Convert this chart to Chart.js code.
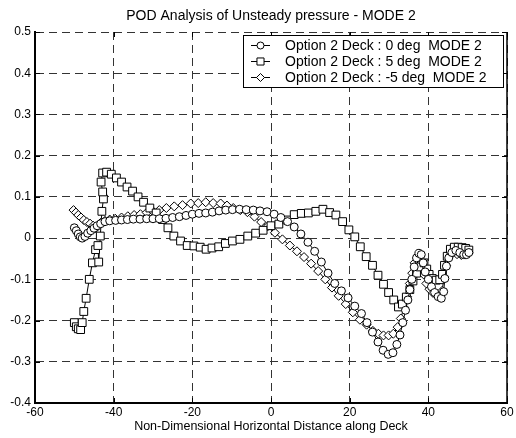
<!DOCTYPE html>
<html>
<head>
<meta charset="utf-8">
<script src="https://cdn.jsdelivr.net/npm/chart.js@4.4.1/dist/chart.umd.min.js"></script>
<style>
  html, body { margin: 0; padding: 0; background: #fff; }
</style>
</head>
<body>
<canvas id="podChart" width="516" height="438"></canvas>
<script>
// series 1 : 0 deg (circles)
const xDeg0 = [-50.0,-49.5,-49.0,-48.5,-48.0,-47.3,-46.6,-45.8,-45.0,-44.2,-43.3,-42.2,-41.0,-39.5,-38.0,-36.5,-35.0,-33.3,-31.6,-30.0,-28.4,-26.7,-25.0,-23.3,-21.6,-20.0,-18.3,-16.6,-14.9,-13.2,-11.5,-9.8,-8.0,-6.3,-4.5,-2.8,-1.0,0.8,2.5,4.2,5.9,7.6,9.4,11.1,12.8,14.5,16.2,17.9,19.6,21.3,23.0,24.4,25.8,27.2,28.5,29.8,31.0,32.0,32.8,33.5,34.2,34.8,35.3,35.8,36.4,37.0,37.6,38.2,38.7,39.2,40.0,40.8,41.6,42.5,43.3,43.9,44.2,44.6,45.2,46.0,47.0,48.0,49.0,49.7,50.3];
const yDeg0 = [0.025,0.018,0.010,0.003,0.000,0.004,0.012,0.018,0.024,0.030,0.035,0.040,0.042,0.043,0.044,0.045,0.046,0.046,0.047,0.047,0.047,0.048,0.050,0.052,0.055,0.058,0.060,0.061,0.063,0.066,0.068,0.069,0.070,0.069,0.068,0.066,0.064,0.058,0.050,0.040,0.027,0.010,-0.010,-0.032,-0.058,-0.085,-0.110,-0.128,-0.145,-0.165,-0.183,-0.205,-0.228,-0.252,-0.272,-0.282,-0.278,-0.258,-0.235,-0.205,-0.175,-0.150,-0.125,-0.100,-0.070,-0.048,-0.037,-0.040,-0.060,-0.082,-0.100,-0.118,-0.132,-0.142,-0.146,-0.130,-0.098,-0.068,-0.048,-0.035,-0.030,-0.035,-0.040,-0.040,-0.035];

// series 2 : 5 deg (squares)
const xDeg5 = [-50.0,-49.5,-49.0,-48.4,-48.0,-47.6,-47.0,-46.2,-45.4,-44.6,-44.0,-43.8,-43.4,-43.0,-42.6,-42.8,-43.2,-42.8,-41.8,-40.6,-39.3,-38.0,-36.6,-35.2,-33.8,-32.4,-30.8,-29.2,-27.6,-26.2,-24.7,-23.0,-21.3,-19.6,-18.0,-16.5,-15.0,-13.3,-11.6,-9.8,-7.9,-5.9,-3.9,-2.0,0.0,2.0,4.0,5.9,7.7,9.5,11.4,13.2,14.9,16.5,18.2,19.8,21.3,22.7,24.2,25.8,27.2,28.6,29.9,31.2,32.4,33.4,34.4,35.3,36.1,37.0,37.9,38.9,39.6,40.2,41.0,42.0,42.9,43.6,44.1,44.8,45.6,46.6,47.6,48.6,49.5,50.3];
const yDeg5 = [-0.205,-0.215,-0.220,-0.222,-0.205,-0.178,-0.146,-0.100,-0.060,-0.028,-0.018,-0.058,0.005,0.065,0.095,0.112,0.136,0.158,0.160,0.155,0.146,0.136,0.124,0.114,0.100,0.087,0.073,0.061,0.045,0.025,0.005,-0.007,-0.018,-0.019,-0.022,-0.027,-0.024,-0.021,-0.013,-0.007,-0.003,0.005,0.012,0.019,0.030,0.034,0.044,0.057,0.060,0.061,0.065,0.070,0.062,0.056,0.040,0.020,0.003,-0.021,-0.045,-0.066,-0.090,-0.112,-0.132,-0.150,-0.167,-0.160,-0.143,-0.125,-0.104,-0.085,-0.070,-0.060,-0.075,-0.088,-0.098,-0.102,-0.101,-0.088,-0.066,-0.044,-0.027,-0.022,-0.022,-0.023,-0.025,-0.029];

// series 3 : -5 deg (diamonds)
const xDegM5 = [-50.2,-49.6,-49.0,-48.3,-47.6,-46.8,-46.0,-45.2,-44.6,-44.0,-43.3,-42.2,-41.0,-39.6,-38.0,-36.4,-34.8,-33.2,-31.6,-30.0,-28.4,-26.6,-24.6,-22.5,-20.4,-18.5,-16.6,-14.7,-12.8,-11.2,-9.6,-7.8,-6.0,-4.2,-2.5,-0.8,1.0,2.9,4.8,6.6,8.4,10.2,12.0,13.8,15.5,17.2,19.0,20.8,22.6,24.3,25.9,27.3,28.6,29.9,31.1,32.2,33.0,33.8,34.6,35.3,35.9,36.5,37.3,38.1,38.8,39.5,40.3,41.2,42.1,42.9,43.5,44.0,44.5,45.2,46.2,47.3,48.4,49.4,50.2];
const yDegM5 = [0.068,0.062,0.056,0.050,0.044,0.039,0.035,0.030,0.024,0.030,0.037,0.042,0.045,0.047,0.050,0.053,0.056,0.058,0.062,0.065,0.068,0.073,0.077,0.080,0.084,0.085,0.087,0.085,0.084,0.079,0.073,0.068,0.063,0.052,0.039,0.029,0.013,-0.003,-0.018,-0.032,-0.046,-0.062,-0.080,-0.100,-0.120,-0.140,-0.160,-0.180,-0.198,-0.210,-0.225,-0.232,-0.236,-0.236,-0.232,-0.216,-0.195,-0.168,-0.142,-0.110,-0.085,-0.060,-0.048,-0.062,-0.088,-0.110,-0.124,-0.133,-0.138,-0.140,-0.128,-0.094,-0.066,-0.043,-0.036,-0.039,-0.041,-0.040,-0.036];

const seriesLabels = ['Option 2 Deck : 0 deg  MODE 2', 'Option 2 Deck : 5 deg  MODE 2', 'Option 2 Deck : -5 deg  MODE 2'];
const markerStyles = ['circle', 'rect', 'rectRot'];
const markerSizes = [4, 5.5, 4.5];

function toPoints(xs, ys) {
  return xs.map((x, i) => ({ x: x, y: ys[i] }));
}

const FONT = 'Liberation Sans, Arial, Helvetica, sans-serif';

const Pdata = {
  datasets: [
    { label: seriesLabels[0], data: toPoints(xDeg0, yDeg0) },
    { label: seriesLabels[1], data: toPoints(xDeg5, yDeg5) },
    { label: seriesLabels[2], data: toPoints(xDegM5, yDegM5) }
  ].map((d, i) => Object.assign(d, {
    showLine: true,
    borderColor: '#000',
    borderWidth: 1,
    pointStyle: markerStyles[i],
    pointRadius: markerSizes[i],
    pointBackgroundColor: '#fff',
    pointBorderColor: '#000',
    pointBorderWidth: 1,
    tension: 0
  }))
};

function marker(ctx, style, r, x, y) {
  ctx.beginPath();
  if (style === 'circle') {
    ctx.arc(x, y, r, 0, Math.PI * 2);
  } else if (style === 'rect') {
    const h = r * Math.SQRT1_2;
    ctx.rect(x - h, y - h, 2 * h, 2 * h);
  } else {
    ctx.moveTo(x, y - r); ctx.lineTo(x + r, y); ctx.lineTo(x, y + r); ctx.lineTo(x - r, y); ctx.closePath();
  }
  ctx.fillStyle = '#fff';
  ctx.fill();
  ctx.stroke();
}

// matlab style frame, inner ticks, title and the legend box
const framePlugin = {
  id: 'frame',
  afterDraw(chart) {
    const ctx = chart.ctx;
    const a = chart.chartArea;
    const sx = chart.scales.x, sy = chart.scales.y;
    ctx.save();
    ctx.strokeStyle = '#000';
    ctx.lineWidth = 1;
    ctx.setLineDash([]);
    ctx.beginPath();
    sx.ticks.forEach(t => {
      const px = Math.round(sx.getPixelForValue(t.value)) + 0.5;
      ctx.moveTo(px, a.bottom); ctx.lineTo(px, a.bottom - 5);
      ctx.moveTo(px, a.top); ctx.lineTo(px, a.top + 5);
    });
    sy.ticks.forEach(t => {
      const py = Math.round(sy.getPixelForValue(t.value)) + 0.5;
      ctx.moveTo(a.left, py); ctx.lineTo(a.left + 5, py);
      ctx.moveTo(a.right, py); ctx.lineTo(a.right - 5, py);
    });
    ctx.stroke();
    ctx.lineWidth = 1.5;
    ctx.beginPath();
    ctx.moveTo(a.right, a.top); ctx.lineTo(a.right, a.bottom);
    ctx.stroke();

    // title
    ctx.fillStyle = '#000';
    ctx.font = '14px ' + FONT;
    ctx.textAlign = 'center';
    ctx.textBaseline = 'middle';
    ctx.fillText('POD Analysis of Unsteady pressure - MODE 2', (a.left + a.right) / 2, 16);

    // legend
    const lx = 243.5, ly = 35.5, lw = 260, lh = 52;
    ctx.fillStyle = '#fff';
    ctx.fillRect(lx, ly, lw, lh);
    ctx.lineWidth = 1;
    ctx.strokeRect(lx, ly, lw, lh);
    ctx.font = '14px ' + FONT;
    ctx.textAlign = 'left';
    chart.data.datasets.forEach((d, i) => {
      const yy = 45.5 + i * 16;
      ctx.beginPath();
      ctx.moveTo(251, yy); ctx.lineTo(270, yy);
      ctx.stroke();
      marker(ctx, markerStyles[i], markerSizes[i] - 0.5, 260.5, yy);
      ctx.fillStyle = '#000';
      ctx.fillText(d.label, 285, yy + 0.5);
    });
    ctx.restore();
  }
};

const tickFmt = v => String(Math.round(v * 10) / 10);

const Pconfig = {
  type: 'scatter',
  data: Pdata,
  options: {
    responsive: false,
    animation: false,
    layout: { padding: { left: 0, right: 9, top: 32, bottom: 0 } },
    plugins: {
      legend: { display: false },
      tooltip: { enabled: false },
      title: { display: false }
    },
    scales: {
      x: {
        type: 'linear',
        min: -60, max: 60,
        afterFit: s => { s.height = 35; },
        ticks: { stepSize: 20, color: '#000', padding: 2, font: { family: FONT, size: 12 }, callback: tickFmt, maxRotation: 0 },
        grid: { color: '#333', lineWidth: 1, drawTicks: false },
        border: { display: true, color: '#000', width: 2, dash: [8, 5] },
        title: {
          display: true,
          text: 'Non-Dimensional Horizontal Distance along Deck',
          color: '#000',
          font: { family: FONT, size: 12.5 },
          padding: { top: 0, bottom: 4 }
        }
      },
      y: {
        type: 'linear',
        min: -0.4, max: 0.5,
        afterFit: s => { s.width = 35; },
        ticks: { stepSize: 0.1, color: '#000', padding: 4, font: { family: FONT, size: 12 }, callback: tickFmt },
        grid: { color: '#333', lineWidth: 1, drawTicks: false },
        border: { display: true, color: '#000', width: 2, dash: [8, 5] }
      }
    }
  },
  plugins: [framePlugin]
};

var PodChart = new Chart(
  document.getElementById('podChart'),
  Pconfig
);
</script>
</body>
</html>
